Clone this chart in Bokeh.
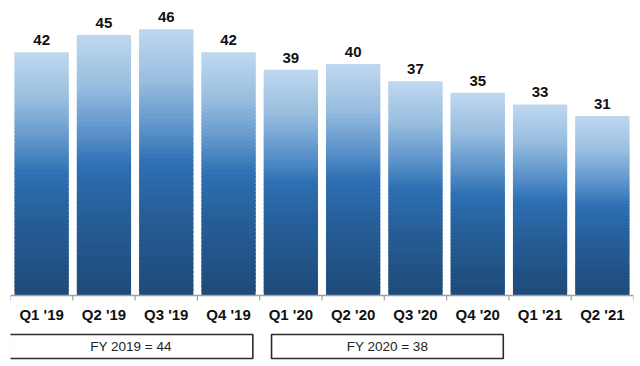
from bokeh.plotting import figure
from bokeh.models import ColumnDataSource, Range1d
from bokeh.core.properties import value
from bokeh.embed import file_html
from bokeh.resources import INLINE

# ---- data ----
quarters = ["Q1 '19", "Q2 '19", "Q3 '19", "Q4 '19", "Q1 '20",
            "Q2 '20", "Q3 '20", "Q4 '20", "Q1 '21", "Q2 '21"]
values = [42, 45, 46, 42, 39, 40, 37, 35, 33, 31]
fy_labels = ["FY 2019 = 44", "FY 2020 = 38"]
fy_first_q = [0, 4]
fy_last_q = [3, 7]

# ---- styling ----
FONT = "Liberation Sans"
PX_PER_UNIT = 5.79          # vertical scale (pixels per value unit)
BAR_W = 0.87
N_SEG = 60
stops = [(0.0, (0x1e, 0x4a, 0x78)), (0.3, (0x26, 0x5e, 0x97)),
         (0.5, (0x2d, 0x70, 0xb3)), (0.62, (0x5a, 0x91, 0xc9)),
         (0.81, (0x9a, 0xbe, 0xe0)), (1.0, (0xbf, 0xd8, 0xef))]


def grad(t):
    for (t0, c0), (t1, c1) in zip(stops[:-1], stops[1:]):
        if t <= t1:
            f = (t - t0) / (t1 - t0)
            return "#%02x%02x%02x" % tuple(int(round(a + (b - a) * f)) for a, b in zip(c0, c1))
    return "#%02x%02x%02x" % stops[-1][1]


W, H = 640, 364
baseline_px = 295            # pixels from figure top to the axis line
y_top = baseline_px / PX_PER_UNIT
y_bot = -(H - baseline_px) / PX_PER_UNIT

p = figure(width=W, height=H, output_backend="svg", toolbar_location=None,
           x_range=Range1d(0, len(quarters)), y_range=Range1d(y_bot, y_top),
           min_border_left=10, min_border_right=7,
           min_border_top=0, min_border_bottom=0)
p.axis.visible = False
p.grid.visible = False
p.outline_line_color = None
p.background_fill_color = "white"
p.border_fill_color = "white"

# gradient bars (overlapping segments, drawn bottom to top, to avoid seams)
xs, bots, tops, cols = [], [], [], []
for k in range(N_SEG):
    for i, v in enumerate(values):
        xs.append(i + 0.5)
        bots.append(v * k / N_SEG)
        tops.append(min(v, v * (k + 1.6) / N_SEG))
        cols.append(grad((k + 0.5) / N_SEG))
p.vbar(x="x", bottom="b", top="t", width=BAR_W, fill_color="c", line_color=None,
       source=ColumnDataSource(dict(x=xs, b=bots, t=tops, c=cols)))

# value labels
p.text(x=[i + 0.5 for i in range(len(values))], y=values, text=[str(v) for v in values],
       text_align="center", text_baseline="bottom", y_offset=-7,
       text_font=value(FONT), text_font_style="bold", text_font_size="15px",
       text_color="#111111")

# axis line and boundary ticks
p.segment(x0=[0], y0=[0], x1=[len(quarters)], y1=[0], line_color="#a0a0a0", line_width=1.5)
tick_len = 5 / PX_PER_UNIT
p.segment(x0=list(range(len(quarters) + 1)), y0=[0] * (len(quarters) + 1),
          x1=list(range(len(quarters) + 1)), y1=[-tick_len] * (len(quarters) + 1),
          line_color="#a0a0a0", line_width=1.2)

# category labels
p.text(x=[i + 0.5 for i in range(len(quarters))], y=[-19 / PX_PER_UNIT] * len(quarters),
       text=quarters, text_align="center", text_baseline="middle",
       text_font=value(FONT), text_font_style="bold", text_font_size="15px",
       text_color="#111111")

# FY boxes
pad_l = [-0.02, 0.19]
pad_r = [0.11, 0.09]
box_top = -39 / PX_PER_UNIT
box_bot = -63 / PX_PER_UNIT
lefts = [a + pl for a, pl in zip(fy_first_q, pad_l)]
rights = [b + 1 - pr for b, pr in zip(fy_last_q, pad_r)]
p.quad(left=lefts, right=rights, top=[box_top] * 2, bottom=[box_bot] * 2,
       fill_color="white", line_color="#2a2a2a", line_width=1.6)
p.text(x=[(l + r) / 2 for l, r in zip(lefts, rights)], y=[(box_top + box_bot) / 2] * 2,
       text=fy_labels, text_align="center", text_baseline="middle",
       text_font=value(FONT), text_font_size="13.5px", text_color="#222222")

open("out.html", "w").write(file_html(p, INLINE))
